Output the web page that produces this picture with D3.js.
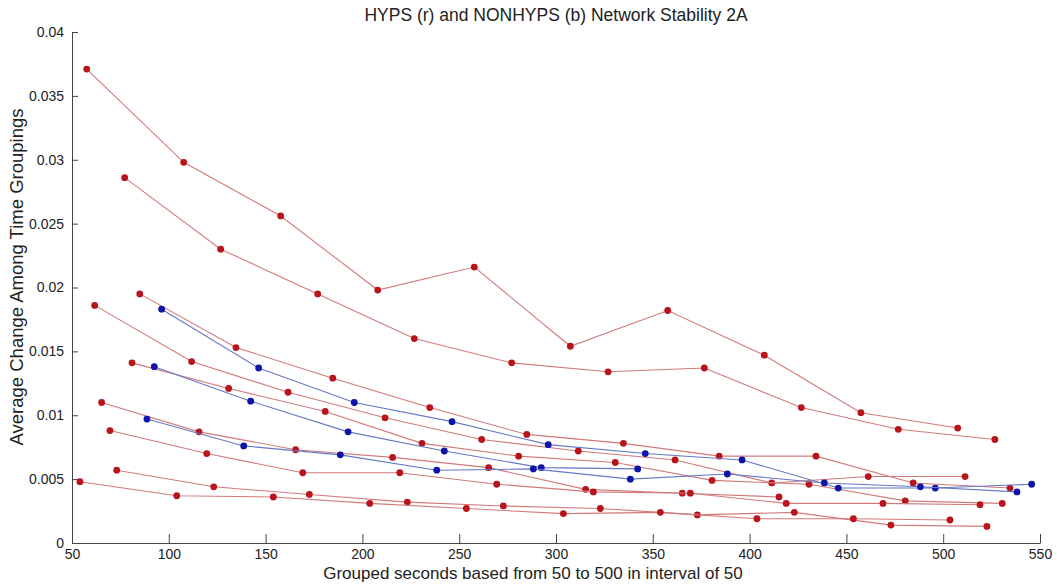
<!DOCTYPE html>
<html lang="en">
<head>
<meta charset="utf-8"/>
<title>Network Stability 2A</title>
<script src="https://cdn.jsdelivr.net/npm/d3@7"></script>
<style>
  body { margin: 0; background: #fff; }
  text { font-family: "Liberation Sans", Arial, sans-serif; fill: #222; }
  .tick text { font-size: 14px; }
</style>
</head>
<body>
<div id="chart"></div>
<script>
// axis ticks
var xTicks = [50, 100, 150, 200, 250, 300, 350, 400, 450, 500, 550];
var yTicks = [0, 0.005, 0.01, 0.015, 0.02, 0.025, 0.03, 0.035, 0.04];
var yTickLabels = ["0", "0.005", "0.01", "0.015", "0.02", "0.025", "0.03", "0.035", "0.04"];

// HYPS (red) series
var hypsA_x = [57.6, 107.7, 157.8, 207.9, 257.8, 307.4, 357.7, 407.6, 457.5, 507.5];
var hypsA_y = [0.0371, 0.0298, 0.0256, 0.0198, 0.0216, 0.0154, 0.0182, 0.0147, 0.0102, 0.0090];
var hypsB_x = [77.2, 126.8, 176.9, 226.8, 277.1, 326.9, 376.6, 426.7, 476.8, 526.7];
var hypsB_y = [0.0286, 0.0230, 0.0195, 0.0160, 0.0141, 0.0134, 0.0137, 0.0106, 0.0089, 0.0081];
var hypsC_x = [85.0, 134.7, 184.7, 234.8, 284.9, 334.8, 384.3, 434.3, 484.5, 534.5];
var hypsC_y = [0.0195, 0.0153, 0.0129, 0.0106, 0.0085, 0.0078, 0.0068, 0.0068, 0.0047, 0.0043];
var hypsD_x = [61.7, 111.8, 161.6, 211.7, 261.6, 311.5, 361.5, 411.4, 461.3, 511.3];
var hypsD_y = [0.0186, 0.0142, 0.0118, 0.0098, 0.0081, 0.0072, 0.0065, 0.0047, 0.0052, 0.0052];
var hypsE_x = [81.0, 130.9, 180.8, 230.8, 280.7, 330.6, 380.6, 430.7, 480.4, 530.5];
var hypsE_y = [0.0141, 0.0121, 0.0103, 0.0078, 0.0068, 0.0063, 0.0049, 0.0046, 0.0033, 0.0031];
var hypsF_x = [65.3, 115.6, 165.5, 215.6, 265.2, 315.3, 365.2, 415.2];
var hypsF_y = [0.0110, 0.0087, 0.0073, 0.0067, 0.0059, 0.0042, 0.0039, 0.0036];
var hypsG_x = [69.6, 119.6, 169.2, 219.3, 269.4, 319.3, 369.4, 418.9, 468.9, 519.0];
var hypsG_y = [0.0088, 0.0070, 0.0055, 0.0055, 0.0046, 0.0040, 0.0039, 0.0031, 0.0031, 0.0030];
var hypsH_x = [73.1, 123.2, 172.6, 223.2, 272.8, 322.9, 373.0, 423.1, 473.0, 522.6];
var hypsH_y = [0.0057, 0.0044, 0.0038, 0.0032, 0.0029, 0.0027, 0.0022, 0.0024, 0.0014, 0.0013];
var hypsI_x = [54.1, 104.1, 154.0, 203.8, 253.7, 303.8, 353.9, 403.8, 453.6, 503.5];
var hypsI_y = [0.0048, 0.0037, 0.0036, 0.0031, 0.0027, 0.0023, 0.0024, 0.0019, 0.0019, 0.0018];

// NONHYPS (blue) series
var nonA_x = [96.3, 146.4, 195.8, 246.3, 296.0, 346.1, 396.1, 445.8, 495.9, 545.7];
var nonA_y = [0.0183, 0.0137, 0.0110, 0.0095, 0.0077, 0.0070, 0.0065, 0.0043, 0.0043, 0.0046];
var nonB_x = [92.5, 142.3, 192.6, 242.3, 292.4, 342.2];
var nonB_y = [0.0138, 0.0111, 0.0087, 0.0072, 0.0059, 0.0058];
var nonC_x = [88.7, 138.7, 188.6, 238.4, 288.3, 338.4, 388.5, 438.6, 488.2, 538.1];
var nonC_y = [0.0097, 0.0076, 0.0069, 0.0057, 0.0058, 0.0050, 0.0054, 0.0047, 0.0044, 0.0040];

var redSeries = [
  [hypsA_x, hypsA_y], [hypsB_x, hypsB_y], [hypsC_x, hypsC_y],
  [hypsD_x, hypsD_y], [hypsE_x, hypsE_y], [hypsF_x, hypsF_y],
  [hypsG_x, hypsG_y], [hypsH_x, hypsH_y], [hypsI_x, hypsI_y]
];
var blueSeries = [[nonA_x, nonA_y], [nonB_x, nonB_y], [nonC_x, nonC_y]];

var width = 1057, height = 586;
var margin = {top: 32, right: 17, bottom: 43, left: 72};

var svg = d3.select("#chart").append("svg")
  .attr("width", width)
  .attr("height", height);

var x = d3.scaleLinear().domain([50, 550]).range([margin.left, width - margin.right]);
var y = d3.scaleLinear().domain([0, 0.04]).range([height - margin.bottom, margin.top]);

// axes, matlab style ticks pointing inward
var xAxis = d3.axisBottom(x).tickValues(xTicks).tickSizeInner(-9).tickSizeOuter(0).tickPadding(13);
var yAxis = d3.axisLeft(y).tickValues(yTicks).tickSizeInner(-6).tickSizeOuter(0).tickPadding(8)
  .tickFormat(function(d, i){ return yTickLabels[i]; });

var gx = svg.append("g")
  .attr("transform", "translate(0," + (height - margin.bottom) + ")")
  .call(xAxis);
var gy = svg.append("g")
  .attr("transform", "translate(" + margin.left + ",0)")
  .call(yAxis);

svg.selectAll(".domain").attr("stroke", "#444");
svg.selectAll(".tick line").attr("stroke", "#444");
gx.selectAll(".tick text").attr("dy", "0.2em");

function toPoints(s) {
  return s[0].map(function(v, i){ return [v, s[1][i]]; });
}

var line = d3.line()
  .x(function(d){ return x(d[0]); })
  .y(function(d){ return y(d[1]); });

function drawSeries(list, lineColor, dotColor) {
  list.forEach(function(s){
    var pts = toPoints(s);
    svg.append("path")
      .datum(pts)
      .attr("d", line)
      .attr("fill", "none")
      .attr("stroke", lineColor)
      .attr("stroke-width", 1.1);
    svg.append("g").selectAll("circle")
      .data(pts)
      .enter()
      .append("circle")
      .attr("cx", function(d){ return x(d[0]); })
      .attr("cy", function(d){ return y(d[1]); })
      .attr("r", 3.4)
      .attr("fill", dotColor);
  });
}

drawSeries(redSeries, "#d27a7a", "#b8141c");
drawSeries(blueSeries, "#6577c6", "#0d14a6");

// titles
svg.append("text")
  .attr("x", 556)
  .attr("y", 21)
  .attr("text-anchor", "middle")
  .style("font-size", "17.5px")
  .text("HYPS (r) and NONHYPS (b) Network Stability 2A");

svg.append("text")
  .attr("x", 533)
  .attr("y", 579)
  .attr("text-anchor", "middle")
  .style("font-size", "17px")
  .text("Grouped seconds based from 50 to 500 in interval of 50");

svg.append("text")
  .attr("transform", "translate(23,277) rotate(-90)")
  .attr("text-anchor", "middle")
  .style("font-size", "18.5px")
  .text("Average Change Among Time Groupings");
</script>
</body>
</html>
